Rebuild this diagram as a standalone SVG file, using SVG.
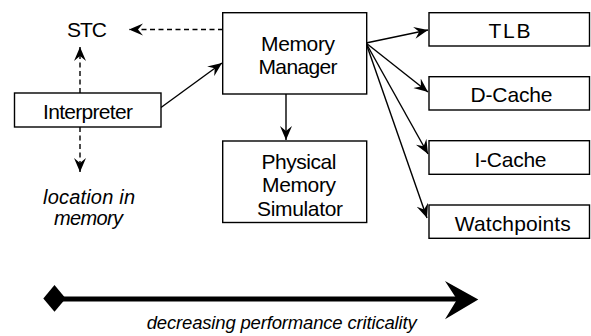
<svg xmlns="http://www.w3.org/2000/svg" width="591" height="336" viewBox="0 0 591 336">
<style>
  .box { fill: #fff; stroke: #000; stroke-width: 1.4; }
  .lbl { font-family: "Liberation Sans", Arial, Helvetica, sans-serif; font-size: 21px; fill: #000; text-anchor: middle; }
  .it { font-style: italic; font-size: 20px; }
  .edge { fill: none; stroke: #000; stroke-width: 1.4; }
  .dash { stroke-dasharray: 5 3.5; }
</style>
<defs>
  <marker id="ah" markerUnits="userSpaceOnUse" viewBox="-14 -7 15 14" refX="0" refY="0" markerWidth="15" markerHeight="14" orient="auto">
    <path d="M0,0 L-14,-6 L-9,0 L-14,6 z" fill="#000"/>
  </marker>
</defs>
<rect width="591" height="336" fill="#fff"/>

<g id="connectors">
  <line class="edge dash" x1="223" y1="29.5" x2="129" y2="29.5" marker-end="url(#ah)"/>
  <line class="edge dash" x1="80" y1="93" x2="80" y2="47" marker-end="url(#ah)"/>
  <line class="edge dash" x1="80" y1="127" x2="80" y2="172" marker-end="url(#ah)"/>
  <line class="edge" x1="161" y1="107.5" x2="222" y2="63" marker-end="url(#ah)"/>
  <line class="edge" x1="286" y1="94" x2="286" y2="140" marker-end="url(#ah)"/>
  <line class="edge" x1="366" y1="43" x2="428" y2="30" marker-end="url(#ah)"/>
  <line class="edge" x1="366" y1="43" x2="428" y2="92" marker-end="url(#ah)"/>
  <line class="edge" x1="366" y1="43" x2="428" y2="154" marker-end="url(#ah)"/>
  <line class="edge" x1="366" y1="43" x2="427" y2="218" marker-end="url(#ah)"/>
</g>

<g id="stc">
  <text class="lbl" x="87" y="37" textLength="40" lengthAdjust="spacing">STC</text>
</g>

<g id="interpreter">
  <rect class="box" x="14.5" y="93" width="146.5" height="34"/>
  <text class="lbl" x="88" y="119" textLength="90" lengthAdjust="spacing">Interpreter</text>
</g>

<g id="location">
  <text class="lbl it" x="89" y="204" textLength="92" lengthAdjust="spacing">location in</text>
  <text class="lbl it" x="88.5" y="224.5" textLength="69" lengthAdjust="spacing">memory</text>
</g>

<g id="memory-manager">
  <rect class="box" x="222.7" y="12.7" width="144" height="81.3"/>
  <text class="lbl" x="298" y="51" textLength="74" lengthAdjust="spacing">Memory</text>
  <text class="lbl" x="298" y="74" textLength="79" lengthAdjust="spacing">Manager</text>
</g>

<g id="physical-memory-simulator">
  <rect class="box" x="222.7" y="141" width="144" height="81.5"/>
  <text class="lbl" x="299" y="168.5" textLength="75" lengthAdjust="spacing">Physical</text>
  <text class="lbl" x="299" y="192" textLength="74" lengthAdjust="spacing">Memory</text>
  <text class="lbl" x="300" y="216" textLength="86" lengthAdjust="spacing">Simulator</text>
</g>

<g id="tlb">
  <rect class="box" x="429" y="12.7" width="160.5" height="33.3"/>
  <text class="lbl" x="509.5" y="38" textLength="42" lengthAdjust="spacing">TLB</text>
</g>

<g id="d-cache">
  <rect class="box" x="429" y="76.7" width="160.5" height="33.3"/>
  <text class="lbl" x="511.5" y="101.7" textLength="82" lengthAdjust="spacing">D-Cache</text>
</g>

<g id="i-cache">
  <rect class="box" x="429" y="140.7" width="160.5" height="33.6"/>
  <text class="lbl" x="510.5" y="166.5" textLength="72" lengthAdjust="spacing">I-Cache</text>
</g>

<g id="watchpoints">
  <rect class="box" x="429" y="205" width="160.5" height="33.3"/>
  <text class="lbl" x="512.8" y="230.5" textLength="116" lengthAdjust="spacing">Watchpoints</text>
</g>

<g id="criticality-axis">
  <line x1="55" y1="299" x2="458" y2="299" stroke="#000" stroke-width="5"/>
  <polygon points="43.3,298.5 54.5,285 65.7,298.5 54.5,311.7" fill="#000"/>
  <polygon points="478.3,299.5 445,281 457,299.5 445,319.3" fill="#000"/>
  <text class="lbl it" x="281.7" y="329" style="font-size:18.5px" textLength="270" lengthAdjust="spacing">decreasing performance criticality</text>
</g>
</svg>
